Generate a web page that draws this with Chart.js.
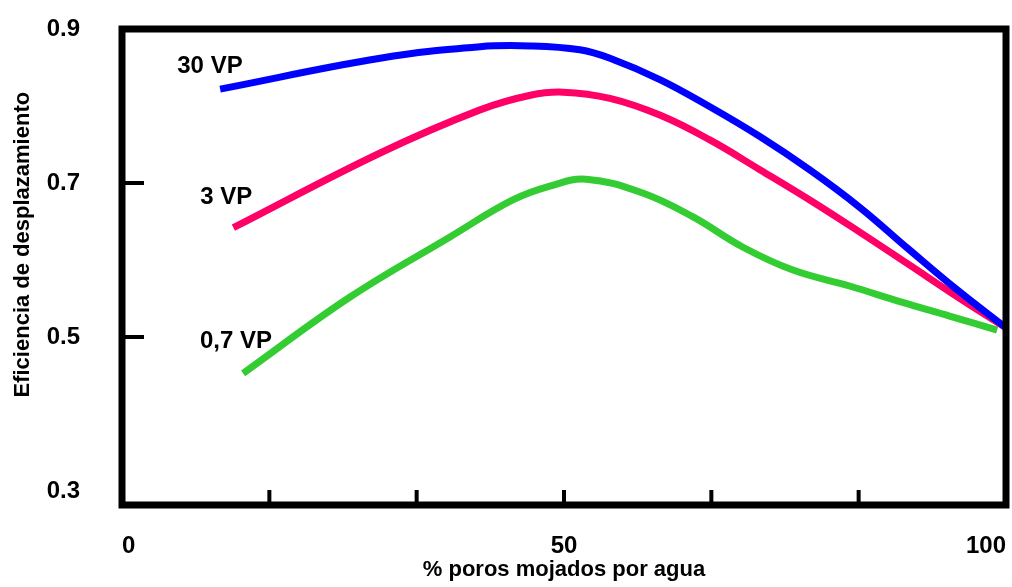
<!DOCTYPE html>
<html>
<head>
<meta charset="utf-8">
<script src="https://cdn.jsdelivr.net/npm/chart.js@4.4.1/dist/chart.umd.min.js"></script>
<style>
    html, body { margin: 0; padding: 0; background: #fff; }
</style>
</head>
<body>
<canvas id="myChart" width="1012" height="587"></canvas>
<script>
// values
const xBlue = [11.1, 29.2, 40.5, 46.2, 51.8, 55.2, 60.9, 66.5, 72.2, 77.8, 83.5, 88.9, 94.4, 100];
const yBlue = [0.822, 0.862, 0.877, 0.878, 0.873, 0.862, 0.834, 0.799, 0.760, 0.717, 0.668, 0.615, 0.562, 0.512];

const xPink = [12.6, 29.2, 40.5, 46.2, 49.9, 55.2, 60.9, 66.5, 72.2, 77.8, 83.5, 88.9, 94.4, 100];
const yPink = [0.642, 0.739, 0.795, 0.814, 0.818, 0.810, 0.788, 0.756, 0.717, 0.678, 0.636, 0.595, 0.553, 0.512];

const xGreen = [13.7, 25.8, 37.1, 44.2, 48.4, 52.5, 58.9, 64.6, 70.2, 75.9, 82.4, 88.0, 93.7, 99.0];
const yGreen = [0.453, 0.552, 0.630, 0.678, 0.696, 0.705, 0.687, 0.656, 0.617, 0.587, 0.566, 0.546, 0.527, 0.509];

const seriesNames = ['30 VP', '3 VP', '0,7 VP'];
const nameX = [9.95, 11.8, 12.9];
const nameY = [0.852, 0.682, 0.494];

const xTickLabels = [0, 50, 100];
const yTickLabels = [0.3, 0.5, 0.7, 0.9];
const xTickMarks = [16.67, 33.33, 50, 66.67, 83.33];
const yTickMarks = [0.7, 0.5];

const yTitle = 'Eficiencia de desplazamiento';
const xTitle = '% poros mojados por agua';

const toPoints = (xs, ys) => xs.map((x, i) => ({ x: x, y: ys[i] }));

Chart.defaults.font.family = "'Liberation Sans', Arial, sans-serif";
Chart.defaults.font.weight = 'bold';
Chart.defaults.font.size = 24;
Chart.defaults.color = '#000';

const framePlugin = {
    id: 'frame',
    afterDatasetsDraw(chart) {
        const ctx = chart.ctx;
        const a = chart.chartArea;
        const x = chart.scales.x;
        const y = chart.scales.y;
        ctx.save();
        ctx.strokeStyle = '#000';
        ctx.lineWidth = 4;
        ctx.beginPath();
        xTickMarks.forEach(v => {
            const px = x.getPixelForValue(v);
            ctx.moveTo(px, a.bottom);
            ctx.lineTo(px, a.bottom - 15);
        });
        yTickMarks.forEach(v => {
            const py = y.getPixelForValue(v);
            ctx.moveTo(a.left, py);
            ctx.lineTo(a.left + 22, py);
        });
        ctx.stroke();
        ctx.lineWidth = 7;
        ctx.strokeRect(a.left, a.top, a.right - a.left, a.bottom - a.top);

        ctx.fillStyle = '#000';
        ctx.textAlign = 'center';
        ctx.textBaseline = 'middle';

        // curve names
        ctx.font = "bold 24px 'Liberation Sans', Arial, sans-serif";
        seriesNames.forEach((s, i) => {
            ctx.fillText(s, x.getPixelForValue(nameX[i]), y.getPixelForValue(nameY[i]));
        });

        // y axis title, sits a bit above the middle in the original
        ctx.font = "bold 22px 'Liberation Sans', Arial, sans-serif";
        ctx.translate(23, y.getPixelForValue(0.62));
        ctx.rotate(-Math.PI / 2);
        ctx.fillText(yTitle, 0, 0);
        ctx.restore();
    }
};

var ctx = document.getElementById('myChart').getContext('2d');
var myChart = new Chart(ctx, {
    type: 'line',
    data: {
        datasets: [
            {
                label: seriesNames[0],
                data: toPoints(xBlue, yBlue),
                borderColor: '#0000ff',
                borderWidth: 7,
                pointRadius: 0,
                fill: false,
                tension: 0.4
            },
            {
                label: seriesNames[1],
                data: toPoints(xPink, yPink),
                borderColor: '#ff0066',
                borderWidth: 7,
                pointRadius: 0,
                fill: false,
                tension: 0.4
            },
            {
                label: seriesNames[2],
                data: toPoints(xGreen, yGreen),
                borderColor: '#33cc33',
                borderWidth: 7,
                pointRadius: 0,
                fill: false,
                tension: 0.4
            }
        ]
    },
    options: {
        responsive: false,
        animation: false,
        layout: { padding: { top: 29, right: 6, left: 0, bottom: 0 } },
        plugins: {
            legend: { display: false },
            tooltip: { enabled: false }
        },
        scales: {
            x: {
                type: 'linear',
                min: 0,
                max: 100,
                grid: { display: false },
                border: { display: false },
                afterBuildTicks: (s) => { s.ticks = xTickLabels.map(v => ({ value: v })); },
                afterFit: (s) => { s.height = 82; s.paddingLeft = 0; s.paddingRight = 0; },
                ticks: {
                    padding: 19,
                    align: 'inner',
                    maxRotation: 0,
                    autoSkip: false,
                    callback: (v) => String(v)
                },
                title: {
                    display: true,
                    text: xTitle,
                    font: { size: 22 },
                    padding: { top: 0, bottom: 4 }
                }
            },
            y: {
                type: 'linear',
                min: 0.282,
                max: 0.9,
                grid: { display: false },
                border: { display: false },
                afterBuildTicks: (s) => { s.ticks = yTickLabels.map(v => ({ value: v })); },
                afterFit: (s) => { s.width = 122; s.paddingTop = 0; s.paddingBottom = 0; },
                ticks: {
                    padding: 34,
                    autoSkip: false,
                    callback: (v) => v.toFixed(1)
                }
            }
        }
    },
    plugins: [framePlugin]
});
</script>
</body>
</html>
